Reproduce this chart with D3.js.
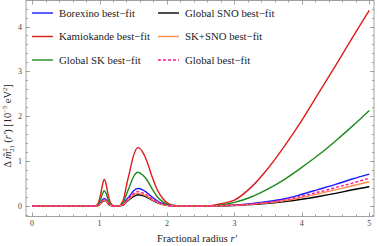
<!DOCTYPE html>
<html>
<head>
<meta charset="utf-8">
<script src="https://cdn.jsdelivr.net/npm/d3@7"></script>
<style>
  body { margin: 0; background: #fff; }
  text { font-family: "Liberation Serif", "DejaVu Serif", serif; }
</style>
</head>
<body>
<script>
var width = 377;
var height = 246;

// fractional radius samples
var radius = [0, 0.9, 0.95, 0.98, 1.0, 1.02, 1.04, 1.07, 1.1, 1.12, 1.14, 1.17, 1.2, 1.24, 1.28,
  1.32, 1.36, 1.4, 1.45, 1.5, 1.57, 1.64, 1.7, 1.78, 1.86, 1.94, 2.02, 2.1, 2.2, 2.4, 2.6,
  2.8, 3.0, 3.25, 3.5, 3.75, 4.0, 4.25, 4.5, 4.75, 5.0];

var borexino = [0, 0, 0, 0.02, 0.04, 0.08, 0.13, 0.17, 0.14, 0.09, 0.05, 0.01, 0, 0, 0,
  0.01, 0.05, 0.14, 0.23, 0.33, 0.39, 0.36, 0.3, 0.2, 0.11, 0.05, 0.02, 0, 0, 0, 0,
  0.005, 0.02, 0.05, 0.1, 0.16, 0.26, 0.37, 0.48, 0.6, 0.71];
var kamiokande = [0, 0, 0.01, 0.06, 0.15, 0.28, 0.44, 0.59, 0.47, 0.31, 0.17, 0.05, 0.01, 0, 0,
  0.04, 0.17, 0.46, 0.78, 1.1, 1.3, 1.2, 1.01, 0.65, 0.35, 0.16, 0.05, 0.01, 0, 0, 0,
  0.05, 0.13, 0.42, 0.84, 1.35, 1.91, 2.52, 3.13, 3.75, 4.36];
var globalSK = [0, 0, 0.005, 0.03, 0.085, 0.16, 0.255, 0.34, 0.27, 0.18, 0.095, 0.03, 0, 0, 0,
  0.02, 0.1, 0.26, 0.45, 0.64, 0.75, 0.69, 0.59, 0.38, 0.2, 0.09, 0.03, 0.01, 0, 0, 0,
  0.02, 0.08, 0.2, 0.38, 0.6, 0.86, 1.14, 1.45, 1.78, 2.13];
var globalSNO = [0, 0, 0, 0.01, 0.03, 0.06, 0.09, 0.12, 0.1, 0.06, 0.03, 0.01, 0, 0, 0,
  0.01, 0.03, 0.09, 0.15, 0.21, 0.25, 0.23, 0.2, 0.13, 0.07, 0.03, 0.01, 0, 0, 0, 0,
  0.005, 0.01, 0.03, 0.06, 0.1, 0.15, 0.21, 0.28, 0.36, 0.43];
var skSNO = [0, 0, 0, 0.01, 0.03, 0.06, 0.1, 0.13, 0.1, 0.07, 0.04, 0.01, 0, 0, 0,
  0.01, 0.04, 0.1, 0.17, 0.24, 0.28, 0.26, 0.22, 0.14, 0.08, 0.03, 0.01, 0, 0, 0, 0,
  0.005, 0.015, 0.035, 0.07, 0.12, 0.19, 0.27, 0.36, 0.45, 0.54];
var globalFit = [0, 0, 0, 0.015, 0.04, 0.07, 0.11, 0.15, 0.12, 0.08, 0.04, 0.01, 0, 0, 0,
  0.01, 0.04, 0.11, 0.19, 0.27, 0.32, 0.29, 0.25, 0.16, 0.09, 0.04, 0.01, 0, 0, 0, 0,
  0.005, 0.02, 0.04, 0.08, 0.14, 0.22, 0.31, 0.41, 0.51, 0.62];

var seriesNames = ['Borexino best\u2212fit', 'Kamiokande best\u2212fit', 'Global SK best\u2212fit',
  'Global SNO best\u2212fit', 'SK+SNO best\u2212fit', 'Global best\u2212fit'];
var seriesValues = [borexino, kamiokande, globalSK, globalSNO, skSNO, globalFit];
var seriesColors = ['#1a1aff', '#e01b1b', '#1e8a1e', '#000000', '#ff8c4a', '#ff1493'];
var seriesDash = [null, null, null, null, null, '3,2'];

var xTicks = [0, 1, 2, 3, 4, 5];
var yTicks = [0, 1, 2, 3, 4];

var svg = d3.select('body').append('svg')
  .attr('width', width)
  .attr('height', height);

var plotL = 26, plotR = 374, plotT = 0.5, plotB = 216.5;

var x = d3.scaleLinear().domain([-0.09, 5.07]).range([plotL, plotR]);
var y = d3.scaleLinear().domain([-0.235, 4.58]).range([plotB, plotT]);

var frameColor = '#8a8a8a';

// minor + major ticks on all four sides
var xMinor = d3.range(0, 5.01, 0.2);
var yMinor = d3.range(-0.2, 4.51, 0.2);

function isMajor(v) { return Math.abs(v - Math.round(v)) < 1e-6; }

var ticks = svg.append('g').attr('stroke', frameColor).attr('stroke-width', 0.8);
xMinor.forEach(function (v) {
  var len = isMajor(v) ? 4 : 2;
  var px = Math.round(x(v)) + 0.5;
  ticks.append('line').attr('x1', px).attr('x2', px).attr('y1', plotB).attr('y2', plotB - len);
  ticks.append('line').attr('x1', px).attr('x2', px).attr('y1', plotT).attr('y2', plotT + len);
});
yMinor.forEach(function (v) {
  var len = isMajor(v) ? 4 : 2;
  var py = Math.round(y(v)) + 0.5;
  ticks.append('line').attr('y1', py).attr('y2', py).attr('x1', plotL).attr('x2', plotL + len);
  ticks.append('line').attr('y1', py).attr('y2', py).attr('x1', plotR).attr('x2', plotR - len);
});

svg.append('rect')
  .attr('x', plotL).attr('y', plotT)
  .attr('width', plotR - plotL).attr('height', plotB - plotT)
  .attr('fill', 'none').attr('stroke', frameColor).attr('stroke-width', 0.8);

svg.selectAll('.xlab')
  .data(xTicks)
  .enter()
  .append('text')
  .attr('class', 'xlab')
  .attr('x', function (d) { return x(d); })
  .attr('y', 226)
  .attr('text-anchor', 'middle')
  .attr('font-size', 8)
  .attr('fill', '#444')
  .text(function (d) { return d; });

svg.selectAll('.ylab')
  .data(yTicks)
  .enter()
  .append('text')
  .attr('class', 'ylab')
  .attr('x', 22)
  .attr('y', function (d) { return y(d) + 3; })
  .attr('text-anchor', 'end')
  .attr('font-size', 8)
  .attr('fill', '#444')
  .text(function (d) { return d; });

// curves
var line = d3.line()
  .x(function (d, i) { return x(radius[i]); })
  .y(function (d) { return y(d); })
  .curve(d3.curveMonotoneX);

var plot = svg.append('g');
seriesValues.forEach(function (vals, i) {
  plot.append('path')
    .attr('d', line(vals))
    .attr('fill', 'none')
    .attr('stroke', seriesColors[i])
    .attr('stroke-width', 1.4)
    .attr('stroke-dasharray', seriesDash[i]);
});

// legend
var legend = svg.append('g');
seriesNames.forEach(function (name, i) {
  var col = Math.floor(i / 3), row = i % 3;
  var lx = col === 0 ? 32 : 158;
  var ly = 13 + row * 23.5;
  legend.append('line')
    .attr('x1', lx).attr('x2', lx + 21)
    .attr('y1', ly).attr('y2', ly)
    .attr('stroke', seriesColors[i])
    .attr('stroke-width', 1.4)
    .attr('stroke-dasharray', seriesDash[i]);
  legend.append('text')
    .attr('x', lx + 27)
    .attr('y', ly + 3.7)
    .attr('font-size', 10.8)
    .attr('fill', '#222')
    .text(name);
});

// axis titles
var xt = svg.append('text')
  .attr('x', 197)
  .attr('y', 242)
  .attr('text-anchor', 'middle')
  .attr('font-size', 10.5)
  .attr('fill', '#222');
xt.append('tspan').text('Fractional radius ');
xt.append('tspan').attr('font-style', 'italic').text('r\u2032');

var yt = svg.append('text')
  .attr('transform', 'translate(11,126) rotate(-90)')
  .attr('text-anchor', 'middle')
  .attr('font-size', 10.5)
  .attr('fill', '#222');
yt.append('tspan').text('\u0394 ');
yt.append('tspan').attr('font-style', 'italic').text('m\u0303');
yt.append('tspan').attr('font-size', 6.5).attr('dy', -4).text('2');
yt.append('tspan').attr('font-size', 6.5).attr('dx', -3.6).attr('dy', 7).text('21');
yt.append('tspan').attr('dy', -3).text(' (');
yt.append('tspan').attr('font-style', 'italic').text('r\u2032');
yt.append('tspan').text(') [10');
yt.append('tspan').attr('font-size', 6.5).attr('dy', -4).text('\u22125');
yt.append('tspan').attr('dy', 4).text(' eV');
yt.append('tspan').attr('font-size', 6.5).attr('dy', -4).text('2');
yt.append('tspan').attr('dy', 4).text(']');
</script>
</body>
</html>
